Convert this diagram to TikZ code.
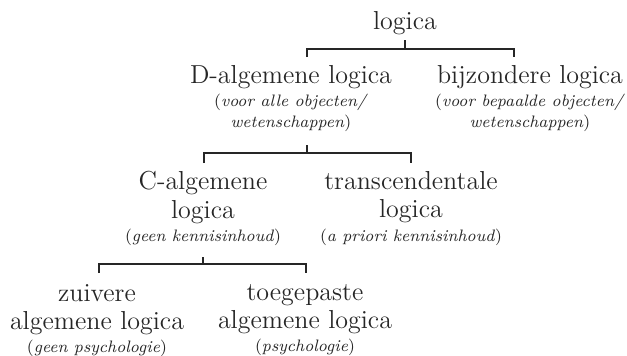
\documentclass[tikz,border=0pt]{standalone}
\usetikzlibrary{positioning}
\newcommand{\gl}[1]{{\fontsize{8.3}{10}\selectfont #1}}
\begin{document}
\begin{tikzpicture}[
    x=0.5pt, y=-0.5pt,
    term/.style={anchor=north, inner sep=0pt, align=center, text=black!85,
      font=\fontsize{13}{14.2}\selectfont},
    bracket/.style={draw=black!85, line width=0.65pt}
  ]
    \useasboundingbox (0,0) rectangle (627,355);

    % Terms
    \node[term] (logica) at (405,11) {logica};
    \node[term] (dalg) at (291,65) {D-algemene logica\\[-2.5pt]
      \gl{(\textit{voor alle objecten/}}\\[-4pt]
      \gl{\textit{wetenschappen})}};
    \node[term] (bijz) at (530,65) {bijzondere logica\\[-2.5pt]
      \gl{(\textit{voor bepaalde objecten/}}\\[-4pt]
      \gl{\textit{wetenschappen})}};
    \node[term] (calg) at (203,171) {C-algemene\\ logica\\[-2.5pt]
      \gl{(\textit{geen kennisinhoud})}};
    \node[term] (trans) at (411,171) {transcendentale\\ logica\\[-2.5pt]
      \gl{(\textit{a priori kennisinhoud})}};
    \node[term] (zuiv) at (97,284) {zuivere\\ algemene logica\\[-3pt]
      \gl{(\textit{geen psychologie})}};
    \node[term] (toeg) at (305,284) {toegepaste\\ algemene logica\\[-3pt]
      \gl{(\textit{psychologie})}};

    % Brackets
    \coordinate (t1) at (405,40);  \coordinate (j1) at (405,49);
    \coordinate (l1) at (307,57);  \coordinate (r1) at (514,57);
    \coordinate (t2) at (307,145); \coordinate (j2) at (307,153);
    \coordinate (l2) at (204,163); \coordinate (r2) at (411,163);
    \coordinate (t3) at (203,257); \coordinate (j3) at (203,264);
    \coordinate (l3) at (99,273);  \coordinate (r3) at (306,273);

    \draw[bracket] (t1) -- (j1) (l1) |- (j1) -| (r1);
    \draw[bracket] (t2) -- (j2) (l2) |- (j2) -| (r2);
    \draw[bracket] (t3) -- (j3) (l3) |- (j3) -| (r3);
\end{tikzpicture}
\end{document}
